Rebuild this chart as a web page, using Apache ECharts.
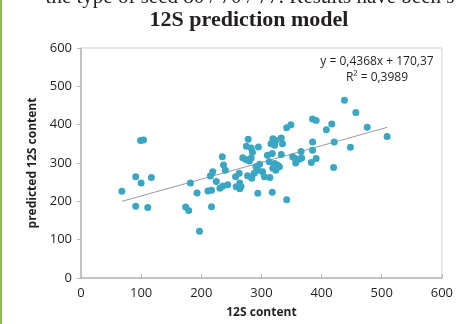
<!DOCTYPE html>
<html>
<head>
<meta charset="utf-8">
<script src="https://cdn.jsdelivr.net/npm/echarts@6/dist/echarts.min.js"></script>
<style>
  html, body { margin: 0; padding: 0; background: #fff; }
  #main { width: 456px; height: 324px; }
</style>
</head>
<body>
<div id="main"></div>
<script>
// measured 12S content vs predicted 12S content
const measured = [
  68, 91, 100, 117, 91, 111, 99, 104, 174, 179,
  182, 193, 197, 211, 217, 217, 215, 219, 225, 231,
  236, 244, 235, 237, 240, 258, 264, 266, 264, 257,
  263, 269, 274, 280, 283, 278, 275, 283, 277, 284,
  295, 285, 291, 294, 297, 288, 302, 305, 314, 294,
  318, 342, 310, 318, 313, 322, 327, 330, 319, 324,
  319, 324, 333, 316, 322, 335, 342, 349, 333, 352,
  356, 357, 363, 367, 366, 385, 391, 383, 385, 421,
  385, 391, 417, 408, 420, 438, 457, 476, 509, 448
];
const predicted = [
  226, 264, 248, 262, 187, 184, 359, 360, 185, 176,
  248, 222, 122, 227, 229, 186, 266, 277, 252, 234,
  240, 243, 316, 295, 281, 238, 233, 239, 248, 264,
  273, 314, 309, 305, 313, 362, 344, 339, 267, 260,
  342, 328, 290, 281, 297, 273, 277, 264, 262, 221,
  224, 204, 320, 325, 303, 299, 294, 290, 286, 281,
  363, 359, 365, 350, 346, 350, 392, 400, 322, 316,
  312, 300, 310, 313, 330, 333, 312, 301, 355, 355,
  415, 411, 402, 387, 288, 464, 432, 393, 369, 341
];
// ends of the linear trend line as drawn
const trendX = [68, 509];
const trendY = [200, 393];

const xTicks = [0, 100, 200, 300, 400, 500, 600];
const yTicks = [0, 100, 200, 300, 400, 500, 600];

const points = measured.map((x, i) => [x, predicted[i]]);
const trend = trendX.map((x, i) => [x, trendY[i]]);

const labelFont = { fontFamily: 'Open Sans', fontSize: 13, color: '#231f20' };
const axisGray = '#b9b9b9';

const myChart = echarts.init(document.getElementById('main'));
myChart.setOption({
  animation: false,
  backgroundColor: '#fff',
  grid: {
    left: 81,
    right: 13,
    top: 48,
    bottom: 44,
    show: true,
    borderColor: '#cfcfcf',
    borderWidth: 1,
  },
  xAxis: {
    type: 'value',
    min: xTicks[0],
    max: xTicks[xTicks.length - 1],
    interval: 100,
    name: '12S content',
    nameLocation: 'middle',
    nameGap: 29,
    nameTextStyle: { fontFamily: 'Open Sans', fontSize: 12, fontWeight: 'bold', color: '#231f20' },
    axisLine: { lineStyle: { color: axisGray, width: 1.5 } },
    axisTick: { inside: true, length: 4, lineStyle: { color: axisGray } },
    axisLabel: Object.assign({ margin: 9 }, labelFont),
    splitLine: { show: false },
  },
  yAxis: {
    type: 'value',
    min: yTicks[0],
    max: yTicks[yTicks.length - 1],
    interval: 100,
    name: 'predicted 12S content',
    nameLocation: 'middle',
    nameGap: 42,
    nameTextStyle: { fontFamily: 'Open Sans', fontSize: 12, fontWeight: 'bold', color: '#231f20' },
    axisLine: { show: true, lineStyle: { color: axisGray, width: 1.5 } },
    axisTick: { show: true, length: 4, lineStyle: { color: axisGray } },
    axisLabel: Object.assign({ margin: 9 }, labelFont),
    splitLine: { show: false },
  },
  graphic: [
    { type: 'rect', left: 0, top: 0, shape: { width: 2, height: 324 }, style: { fill: '#8dbb5a' } },
    {
      type: 'text', x: 250, y: -13,
      style: { text: 'the type of seed 80 / 70 / 77. Results have been s', font: '21px "Liberation Serif"', fill: '#231f20', textAlign: 'center' },
    },
    {
      type: 'text', x: 249, y: 9,
      style: { text: '12S prediction model', font: 'bold 22px "Liberation Serif"', fill: '#231f20', textAlign: 'center' },
    },
    {
      type: 'text', x: 377, y: 56,
      style: { text: 'y = 0,4368x + 170,37', font: '12px "Open Sans"', fill: '#231f20', textAlign: 'center' },
    },
    {
      type: 'text', x: 377, y: 72,
      style: { text: 'R² = 0,3989', font: '12px "Open Sans"', fill: '#231f20', textAlign: 'center' },
    },
  ],
  series: [
    {
      type: 'line',
      data: trend,
      symbol: 'none',
      silent: true,
      lineStyle: { color: '#9a9a9a', width: 1 },
      z: 1,
    },
    {
      type: 'scatter',
      data: points,
      symbol: 'circle',
      symbolSize: 7,
      itemStyle: { color: '#3aa6c2', opacity: 1 },
      z: 2,
    },
  ],
});
</script>
</body>
</html>
